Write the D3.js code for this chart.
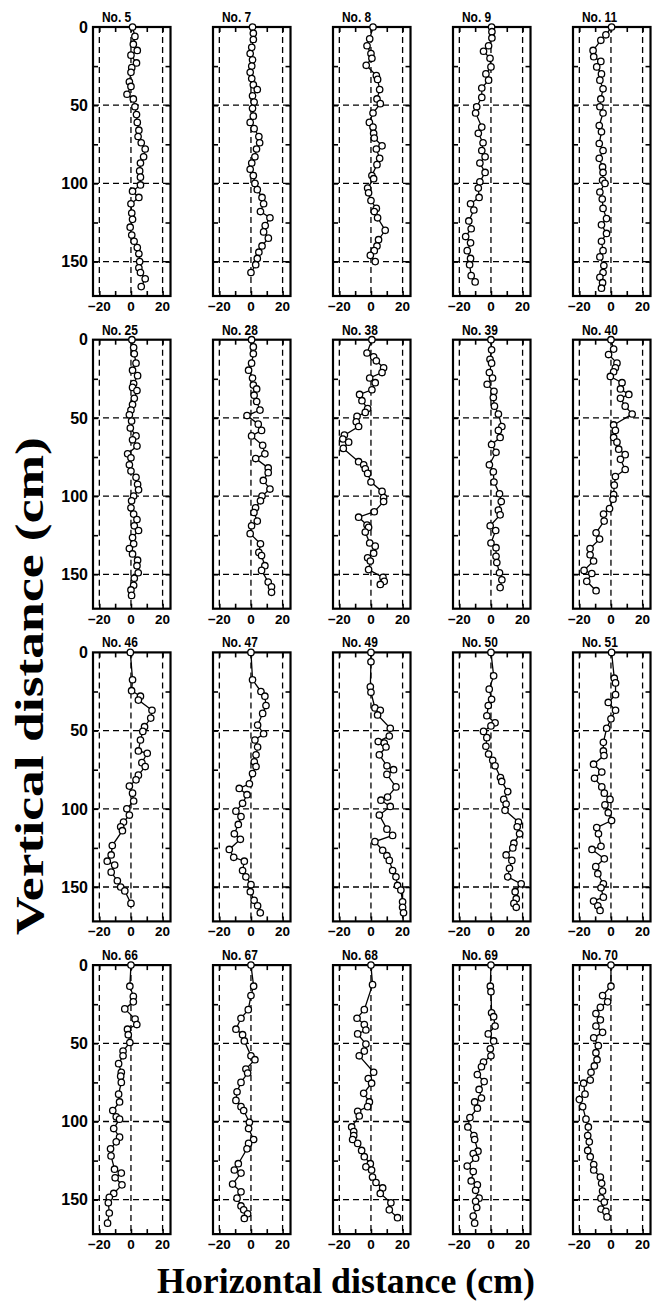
<!DOCTYPE html>
<html lang="en">
<head>
<meta charset="UTF-8">
<title>Vertical vs horizontal distance</title>
<script src="https://d3js.org/d3.v7.min.js"></script>
<style>
  body { margin: 0; background: #fff; }
  svg { display: block; }
  .lbl { font-family: "Liberation Sans", Arial, sans-serif; font-weight: bold; fill: #000; }
  .big { font-family: "Liberation Serif", "Times New Roman", serif; font-weight: bold; fill: #000; }
</style>
</head>
<body>
<div id="chart"></div>
<script>
// panel titles, left to right, top to bottom
const names = ["No. 5", "No. 7", "No. 8", "No. 9", "No. 11",
               "No. 25", "No. 28", "No. 38", "No. 39", "No. 40",
               "No. 46", "No. 47", "No. 49", "No. 50", "No. 51",
               "No. 66", "No. 67", "No. 68", "No. 69", "No. 70"];

const yTicks = [0, 50, 100, 150];
const xTicks = [-20, 0, 20];

// depth (cm) and horizontal offset (cm)
const d5 = [0, 6, 11, 15, 18, 23, 26, 29, 35, 38, 43, 46, 51, 56, 61, 66, 70, 74, 78, 83, 87, 92, 96, 101, 105, 109, 113, 119, 123, 128, 133, 137, 141, 145, 150, 154, 157, 161, 166];
const x5 = [1, 2.5, 1.5, 4, 0, 3.5, 0.5, 0, -1, 0, -2.5, 1.5, 2.5, 3.5, 4, 5, 4.5, 6.5, 9, 8, 6, 5.5, 6, 6, 1, 5, 0, 0.5, 1, -0.5, 0.5, 2, 4, 5, 5.5, 5, 6, 9, 6.5];
const d7 = [0, 4, 8, 13, 17, 21, 25, 29, 33, 37, 40, 44, 48, 52, 57, 61, 65, 70, 74, 78, 83, 87, 91, 95, 100, 104, 109, 113, 118, 122, 127, 131, 135, 140, 144, 148, 152, 157];
const x7 = [1, 1.5, 1.5, 0.5, -0.5, 1, 0.5, -0.5, 0.5, 1.5, 4, 1, 2, 1, 1.5, -0.5, 2, 5, 5.5, 3.5, 2.5, 0.5, -0.5, 1.5, 2.5, 4, 7, 8, 6, 12, 9, 8, 11, 7, 5, 4, 3, 0];
const d8 = [0, 7.5, 12, 17, 20, 24.5, 31, 33.5, 40, 46, 49, 55, 61, 64, 68, 71, 76, 78, 84, 88, 95, 97, 103, 106, 111, 116, 118, 122, 130, 136, 140, 143, 146, 150];
const x8 = [1.3, -0.8, -2.5, 0, 0.6, -3, 3.4, 4.2, 5.5, 3.8, 5.9, 1.3, -1, 1.3, 1.7, 2.1, 7, 3.4, 5.5, 3.8, 0.6, 1.7, -2.1, -1.5, 0, 3.4, 2.1, 4.2, 9, 4.8, 3.8, 2.1, -0.4, 2.7];
const d9 = [0, 3, 7, 12, 15.5, 20, 25.5, 30, 34, 39, 45, 51, 55, 64, 68, 74, 79, 83, 87, 93, 99, 103, 109, 113, 117, 124, 129, 134, 138, 143, 148, 152, 159, 163];
const x9 = [0.4, 0.6, 0.6, -1.5, -4.7, -0.6, 0, -3.2, -1.5, -5.8, -5.8, -9, -9.7, -5.8, -8, -5, -5.8, -3.7, -7, -3.7, -7, -8, -7.5, -12.9, -10.8, -14, -12.5, -16, -12.9, -15, -12.9, -13.5, -12.5, -10];
const d11 = [0, 5, 8.5, 15, 19, 22, 25.5, 30, 34, 39.5, 46, 51, 55, 63, 67, 74.5, 79, 84, 89.5, 93, 98, 100, 105.5, 110, 116, 122.5, 126.5, 132, 137, 143, 147, 152.5, 157, 160, 163.5, 167];
const x11 = [0.4, -3.2, -6.4, -11.3, -10.9, -6.4, -9, -6, -7, -5, -6.4, -7, -5, -7.4, -6, -7.4, -5, -7.4, -5.3, -5, -5.3, -3.8, -7, -5.5, -5, -2.8, -6, -2.8, -6, -5, -7, -4.5, -5, -7, -5.3, -6];

const d25 = [0, 5, 9, 15, 19.5, 23, 28, 30.5, 32.5, 37.5, 41.5, 45, 48, 52, 56.5, 61.5, 64, 68, 73, 75.5, 80, 84, 88, 92.5, 96, 100, 103, 107.5, 111.5, 115, 119, 122, 126.5, 130.5, 133.5, 137, 141, 144.5, 149, 152.5, 157, 160, 163.5];
const x25 = [0.6, 1.7, 2.1, 3.2, 1, 4.2, 1.7, 1, 3.8, 2.1, 1, 0, -1, 0.4, -0.4, 3.2, 1, 3.8, -2.1, 0, -1, 0, 3.2, 4.2, 4.8, 1.7, 0.4, 0, 1.7, 3.8, 2.1, 4.8, 1, 1.7, -1, 1, 4.2, 3.8, 4.6, 2.1, 1.7, 0, 0.4];
const d28 = [0, 4.6, 9, 15, 19.5, 24.5, 29, 31.5, 35.5, 39.5, 45, 48.5, 54, 58, 61.5, 67.5, 73, 76, 82, 85, 90, 95.5, 100, 103, 107.5, 110.5, 116, 119, 124, 130.5, 136, 138, 144.5, 147.5, 155, 158, 161.5];
const x28 = [0.4, 1.5, 1.5, 0.4, -1.5, 1, 1.5, 3.6, 2, 3.6, 5.7, -2.5, 4.6, 6.7, 0.4, 7.4, 8.8, 3, 10.9, 10.9, 7.8, 12, 7, 6, 2.9, 1.9, 4, 0.4, -0.5, 6, 5, 6.7, 8.8, 6.7, 10.9, 13, 13];
const d38 = [0, 8.5, 11, 13.5, 18, 21, 24.5, 27.5, 32, 35, 39, 44, 46.5, 49, 52.5, 55.5, 61, 63.5, 65.5, 69.5, 78, 80, 82.5, 85.5, 91, 97, 101, 103.5, 110, 113.5, 118.5, 120, 123, 130, 132, 136.5, 139.5, 141.5, 147, 152, 154.5, 156.5];
const x38 = [0.6, -2.5, 1.7, 3.4, 8, 7, -0.8, 2.7, 0.6, -7.2, -5.7, -2.1, -3.6, -8.8, -9.3, -7.8, -16.8, -17.8, -14.1, -17.5, -7.8, -4.6, -3.6, -2.1, 0, 7, 8, 8, 2.1, -7.8, -2.5, -1.5, -3.6, -0.8, 2.7, 1.7, -2.1, -0.4, -1.5, 7.6, 8.4, 5.9];
const d39 = [0, 6.5, 12.5, 15, 21, 24.5, 28.5, 33, 37, 42.5, 47.5, 55.5, 58, 62.5, 67, 72, 80, 84.5, 91, 98.5, 103.5, 109, 112, 119, 122, 130, 133, 138.5, 142.5, 149, 153.5, 158.5];
const x39 = [0, 0.4, -0.6, 0.4, -1, 1, -2.4, 1.9, 1.5, 2.2, 4.7, 6.9, 4.7, 5.8, 0.4, 3.2, -1, 1.5, 1.9, 5.4, 6.5, 4.7, 5.8, -0.5, 3, 0, 3.2, 3.2, 3.7, 5.4, 6.9, 5.8];
const d40 = [0, 6, 9.5, 15, 18, 20.5, 23.5, 27.5, 31.5, 35, 37.5, 42.5, 47.5, 54.5, 58, 62.5, 65.5, 70, 73.5, 76.5, 83, 87.5, 93, 99, 102, 108, 111.5, 116, 123.5, 127.5, 133.5, 137.5, 141.5, 147.5, 149.5, 154.5, 160.5];
const x40 = [0, 1.7, -1.5, 3.8, 2.8, 1.7, -0.4, 7, 6, 11.3, 6, 9, 13.4, 1.7, 2.8, 1.7, 3.8, 4.9, 9, 6, 9, 2.8, 2.1, 1.7, 1.3, -0.9, -4.7, -4.3, -9.4, -7.2, -13.2, -13.2, -11, -17, -12.1, -15.3, -9.4];

const d46 = [0, 17.5, 24.5, 28, 30.5, 37, 42, 47.5, 50.5, 56, 63, 64.5, 70.5, 73, 78.5, 81.5, 85.5, 90, 95, 100, 104, 108.5, 111.5, 114, 123.5, 129.5, 133.5, 136, 140.5, 146, 150, 152.5, 160.5];
const x46 = [-0.4, 1, 0.4, 6, 4.7, 13.3, 12.5, 8.6, 7.5, 6, 4.7, 10.3, 6.9, 9, 4.7, 3.2, -1, 1, 1.7, -2.6, -1, -4.7, -6.5, -5.4, -11.8, -12.5, -15, -10.3, -12.5, -8.6, -6.5, -3.9, 0];
const d47 = [0, 17.5, 25, 28, 34, 39, 46.5, 52, 56, 60.5, 65.5, 70, 73, 77.5, 84, 87, 91, 96.5, 101.5, 105, 110, 116, 119.5, 126, 131, 133.5, 139.5, 143.5, 148.5, 153, 158.5, 162, 166.5];
const x47 = [0, 1, 6.3, 8.8, 9.5, 7.4, 4.2, 8, 2.5, 4.2, 3.2, 2.1, 3.2, 1, -1, -7.4, -2.5, -5.3, -9.5, -6.3, -8, -10.5, -6.7, -13.7, -10.9, -4.2, -5.3, -3.2, 0, -0.4, 2, 4.2, 5.9];
const d49 = [0, 6, 22, 25.5, 35.5, 37, 40, 48.5, 53.5, 57, 58, 60.5, 65.5, 72.5, 75, 78, 86, 92.5, 94.5, 98.5, 104, 113, 117, 121, 126.5, 130, 133, 139.5, 143.5, 149, 152, 159.5, 163, 166.5];
const x49 = [0, 0, -0.4, 0, 2.5, 5.9, 4.2, 12.2, 11.6, 4.6, 8.4, 9.5, 5.3, 10.1, 14.3, 10.1, 15.8, 10.5, 6.3, 12.2, 5.3, 10.1, 13.7, 2.5, 7.4, 10.1, 11.6, 13.7, 15.8, 16.8, 18.9, 20, 20, 20.6];
const d50 = [0, 15, 23.5, 30, 34, 40.5, 45, 47, 50.5, 54.5, 60, 65, 69, 72.5, 80, 82.5, 89, 94, 97, 101, 108.5, 111.5, 116, 122, 125, 129.5, 133, 138, 143.5, 148, 153, 157.5, 160.5, 163];
const x50 = [0, 1.7, -1.1, 0.4, -1.7, -2.6, 2.6, 0, -4.7, -2.6, -3.2, -1.5, 1.1, 2.6, 6, 6.8, 10.6, 8.1, 9.6, 8.9, 17.4, 16.6, 18.1, 14.5, 13.8, 9.6, 13.2, 11.7, 10.6, 19.1, 15.3, 16, 14.5, 16];
const d51 = [0, 16.5, 19.5, 27, 32, 37, 42.5, 48.5, 57.5, 63, 66, 71.5, 76.5, 80.5, 86, 90, 94, 97.5, 102.5, 107.5, 112, 116, 124, 126, 132, 137, 141.5, 148, 150.5, 156.5, 159, 162, 165];
const x51 = [0.4, 2.1, 2.9, 2.9, -1.7, 2.9, 0, -2.7, -4.8, -4.8, -4.4, -11, -5.8, -10.4, -5.8, -4.2, -0.6, -3.8, -1.7, 0.4, -9, -7.9, -6.3, -12, -4.2, -9.6, -8.3, -4.8, -6.3, -4.8, -11, -8.3, -6.9];

const d66 = [0, 13.5, 20, 23.5, 28, 34.5, 38, 41, 44.5, 49.5, 55, 58, 63, 68.5, 71, 75, 82.5, 87.5, 93, 97, 98.5, 104.5, 110, 113, 117.5, 122, 130.5, 133, 136, 140.5, 146, 148.5, 152, 158.5, 165];
const x66 = [0, -0.7, 1.5, 1.5, -3.9, 2.6, 3.7, -2.2, -1.7, -0.7, -5, -5, -7.8, -6.1, -6.5, -6.1, -7.8, -7.2, -11.5, -9.3, -7.2, -10.9, -7.2, -9.3, -12.9, -12.6, -10.4, -6.1, -10, -5.7, -10.9, -13.7, -14.3, -13.7, -14.8];
const d67 = [0, 13.5, 19.5, 28.5, 34, 41, 44.5, 48.5, 58, 60.5, 66.5, 69, 75, 81, 86.5, 90.5, 93, 100.5, 104.5, 111.5, 114, 117.5, 127, 131, 133, 140, 145, 149, 154, 156.5, 159, 162];
const x67 = [0, 1.7, 0, -1.7, -6.3, -9.5, -5.3, -4.2, 0, 2.5, -3.2, -2.1, -6.3, -8.8, -9.5, -6.3, -4.6, -1, -1.5, 1.7, -1.5, -2.5, -8, -10.5, -6.3, -11.6, -6.3, -8.8, -6.3, -4.6, -2.1, -4.2];
const d68 = [0, 12.5, 28.5, 34, 38, 41.5, 44, 50.5, 55, 58, 68.5, 72.5, 75.5, 82, 87.5, 90.5, 93.5, 96.5, 103.5, 106.5, 109, 111.5, 114, 118.5, 122.5, 127, 129, 131, 135.5, 139, 142.5, 146, 152, 156.5, 161.5];
const x68 = [0, 1, -4.2, -8.8, -4.2, -3.2, -8.4, -3.2, -4.2, -7.4, 1.7, -1.7, 0.4, -4.6, -1, -2.1, -8.4, -7.4, -12.2, -10.9, -10.9, -11.6, -8.4, -5.9, -4.2, -0.4, -3.2, 0.4, 1, 3.2, 7.4, 5.9, 12.6, 11.6, 16.8];
const d69 = [0, 13.5, 17, 30.5, 33, 39, 44, 48.5, 53.5, 58, 62, 65, 70, 74.5, 79.5, 85, 87.5, 91.5, 97.5, 103.5, 109, 111.5, 119, 120.5, 123.5, 128.5, 132, 138, 140.5, 144, 149, 151, 155, 160.5, 165];
const x69 = [0, -0.4, 0, 0.4, 1.7, 2.6, -1.7, 1.7, -0.4, 0, -4.7, -6, -8.6, -4.3, -7.5, -6, -10.3, -8.6, -13.3, -14.6, -10.8, -10.3, -8.2, -11.2, -9.7, -15, -11.2, -12.5, -8.6, -9.7, -7.5, -9.7, -9, -11.2, -10.3];
const d70 = [0, 13.5, 19.5, 23.5, 27, 31, 35, 39, 43, 46.5, 51.5, 56, 60.5, 64.5, 68.5, 73.5, 75.5, 82.5, 86, 90.5, 98.5, 103.5, 109, 113, 118.5, 122.5, 127.5, 131, 135.5, 139.5, 144.5, 149, 151.5, 156, 157.5, 161];
const x70 = [0, 0, -5.3, -2.1, -6.7, -9.5, -6.7, -9.5, -5.3, -10.9, -8, -9.5, -8.8, -10.5, -12.6, -13.1, -17.3, -16.4, -20, -17.9, -15.8, -14.3, -14.7, -13.7, -14.7, -13.1, -10.9, -10.9, -6.7, -5.9, -5.3, -6.3, -4.2, -6.3, -3.2, -2.5];

const depths = [d5, d7, d8, d9, d11, d25, d28, d38, d39, d40, d46, d47, d49, d50, d51, d66, d67, d68, d69, d70];
const offsets = [x5, x7, x8, x9, x11, x25, x28, x38, x39, x40, x46, x47, x49, x50, x51, x66, x67, x68, x69, x70];

const W = 652, H = 1304;
const pw = 77.5, ph = 269;       // one panel
const left0 = 93, top0 = 27;
const colStep = 120, rowStep = 312.7;

const svg = d3.select("#chart").append("svg")
    .attr("width", W).attr("height", H);

const x = d3.scaleLinear().domain([-24, 25]).range([0, pw]);
const y = d3.scaleLinear().domain([0, 172]).range([0, ph]);

names.forEach(function (name, i) {
    const col = i % 5, row = Math.floor(i / 5);
    const g = svg.append("g")
        .attr("transform", "translate(" + (left0 + col * colStep) + "," + (top0 + row * rowStep) + ")");

    // dashed grid
    g.selectAll(".vg").data(xTicks).enter().append("line")
        .attr("x1", d => x(d)).attr("x2", d => x(d))
        .attr("y1", 0).attr("y2", ph)
        .attr("stroke", "#000").attr("stroke-width", 1.3).attr("stroke-dasharray", "6,4");
    g.selectAll(".hg").data([50, 100, 150]).enter().append("line")
        .attr("x1", 0).attr("x2", pw)
        .attr("y1", d => y(d)).attr("y2", d => y(d))
        .attr("stroke", "#000").attr("stroke-width", 1.3).attr("stroke-dasharray", "6,4");

    // inward ticks on all four sides
    const inner = g.append("g");
    inner.append("g").call(d3.axisRight(y).tickValues([25, 50, 75, 100, 125, 150]).tickSize(5).tickFormat(""));
    inner.append("g").attr("transform", "translate(" + pw + ",0)")
        .call(d3.axisLeft(y).tickValues([25, 50, 75, 100, 125, 150]).tickSize(5).tickFormat(""));
    inner.append("g").call(d3.axisBottom(x).tickValues([-20, -10, 0, 10, 20]).tickSize(5).tickFormat(""));
    inner.append("g").attr("transform", "translate(0," + ph + ")")
        .call(d3.axisTop(x).tickValues([-20, -10, 0, 10, 20]).tickSize(5).tickFormat(""));
    inner.selectAll(".domain").remove();
    inner.selectAll("line").attr("stroke", "#000").attr("stroke-width", 1.6);

    // frame
    g.append("rect").attr("width", pw).attr("height", ph)
        .attr("fill", "none").attr("stroke", "#000").attr("stroke-width", 2.2);

    const pts = depths[i].map((d, k) => [offsets[i][k], d]);
    g.append("path").datum(pts)
        .attr("fill", "none").attr("stroke", "#000").attr("stroke-width", 1.3)
        .attr("d", d3.line().x(p => x(p[0])).y(p => y(p[1])));
    g.selectAll(".pt").data(pts).enter().append("circle")
        .attr("cx", p => x(p[0])).attr("cy", p => y(p[1])).attr("r", 3.2)
        .attr("fill", "#fff").attr("stroke", "#000").attr("stroke-width", 1.3);

    // panel title
    g.append("text").attr("class", "lbl")
        .attr("transform", "translate(9,-5) scale(0.92,1.15)")
        .style("font-size", "13px")
        .text(name);

    // x tick labels
    g.selectAll(".xl").data(xTicks).enter().append("text").attr("class", "lbl")
        .attr("x", d => x(d)).attr("y", ph + 15)
        .attr("text-anchor", "middle")
        .style("font-size", "13.5px")
        .text(d => d < 0 ? "\u2212" + Math.abs(d) : d);

    // y tick labels on first column
    if (col === 0) {
        g.selectAll(".yl").data(yTicks).enter().append("text").attr("class", "lbl")
            .attr("x", -5).attr("y", d => y(d)).attr("dy", "0.36em")
            .attr("text-anchor", "end")
            .style("font-size", "16px")
            .text(d => d);
    }
});

// axis titles, stretched to the lengths seen in the figure
const yt = svg.append("text").attr("class", "big")
    .style("font-size", "40px")
    .attr("text-anchor", "middle")
    .text("Vertical distance (cm)");
const ytLen = yt.node().getComputedTextLength();
yt.attr("transform", "translate(43,686) rotate(-90) scale(" + (498 / ytLen) + ",1)");

const xt = svg.append("text").attr("class", "big")
    .style("font-size", "36px")
    .attr("text-anchor", "middle")
    .text("Horizontal distance (cm)");
const xtLen = xt.node().getComputedTextLength();
xt.attr("transform", "translate(346,1293) scale(" + (378 / xtLen) + ",1)");
</script>
</body>
</html>
